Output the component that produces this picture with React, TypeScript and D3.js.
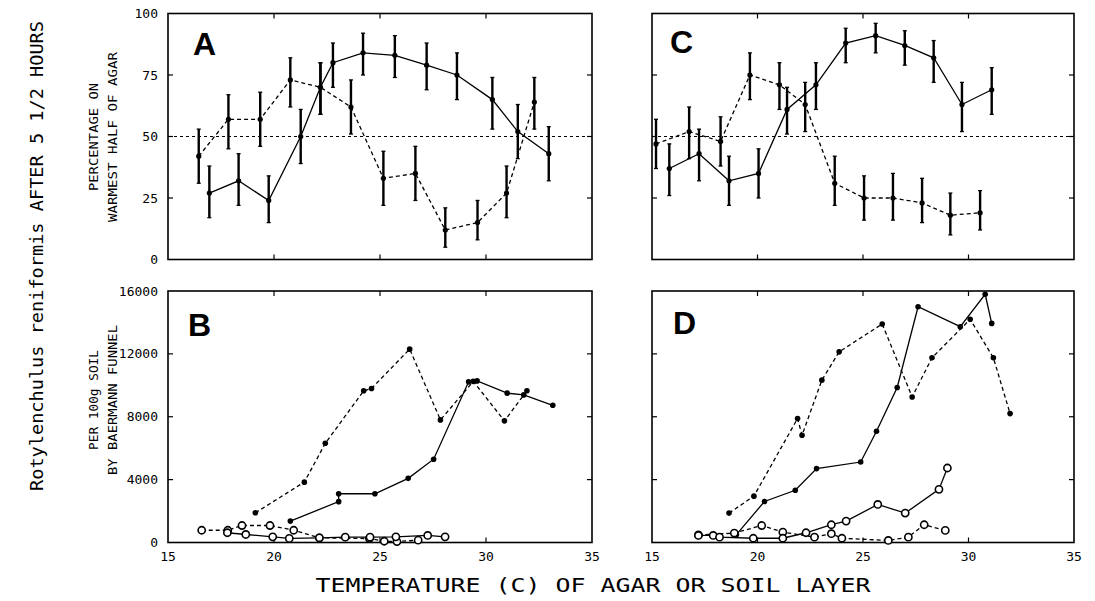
import React from "react";
import * as d3 from "d3";

// temperature axis (shared)
const tempTicks = [15, 20, 25, 30, 35];
const pctTicks = [0, 25, 50, 75, 100];
const countTicks = [0, 4000, 8000, 12000, 16000];

// [temp, pct, low, high]
const aSolid = [
  [16.95, 27, 17, 38], [18.33, 32, 22, 43], [19.75, 24, 15, 34], [21.26, 50, 39, 61],
  [22.19, 70, 59, 80], [22.78, 80, 70, 88], [24.2, 84, 75, 92], [25.7, 83, 74, 91],
  [27.2, 79, 69, 88], [28.63, 75, 65, 84], [30.3, 65, 53, 74], [31.5, 52, 41, 63],
  [32.96, 43, 32, 54],
];
const aDashed = [
  [16.45, 42, 31, 53], [17.85, 57, 45, 67], [19.35, 57, 46, 68], [20.77, 73, 62, 82],
  [22.19, 70, 59, 80], [23.63, 62, 51, 73], [25.16, 33, 22, 44], [26.67, 35, 24, 46],
  [28.08, 12, 5, 21], [29.6, 15, 8, 24], [30.97, 27, 17, 38], [32.28, 64, 53, 74],
];
const cSolid = [
  [15.82, 37, 26, 47], [17.23, 43, 32, 53], [18.65, 32, 22, 42], [20.05, 35, 25, 45],
  [21.4, 61, 51, 70], [22.77, 71, 61, 80], [24.18, 88, 80, 94], [25.6, 91, 84, 96],
  [26.98, 87, 79, 93], [28.35, 82, 72, 89], [29.69, 63, 52, 72], [31.1, 69, 59, 78],
];
const cDashed = [
  [15.19, 47, 37, 57], [16.76, 52, 41, 62], [18.25, 48, 38, 58], [19.64, 75, 65, 84],
  [21.04, 71, 61, 80], [22.26, 63, 52, 72], [23.66, 31, 22, 42], [25.05, 25, 16, 34],
  [26.42, 25, 16, 35], [27.8, 23, 15, 33], [29.14, 18, 10, 27], [30.55, 19, 12, 28],
];

// [temp, count]
const bSolidFilled = [
  [20.77, 1360], [23.05, 2600], [23.05, 3100], [24.76, 3100], [26.33, 4080], [27.53, 5300],
  [29.18, 10220], [29.58, 10280], [31.0, 9500], [31.78, 9390], [33.15, 8730],
];
const bDashedFilled = [
  [19.12, 1890], [21.43, 3840], [22.42, 6310], [24.23, 9650], [24.6, 9800], [26.4, 12300],
  [27.85, 7800], [29.4, 10250], [30.87, 7740], [31.93, 9650],
];
const bSolidOpen = [
  [17.8, 620], [18.67, 510], [19.94, 360], [20.72, 260], [22.14, 300], [23.36, 340],
  [24.53, 340], [25.75, 360], [27.25, 450], [28.07, 360],
];
const bDashedOpen = [
  [16.59, 780], [17.82, 780], [18.49, 1080], [19.81, 1080], [20.93, 780], [22.14, 300],
  [24.5, 250], [25.2, 80], [25.8, 60], [26.8, 150],
];
const dSolidFilled = [
  [19.0, 500], [20.33, 2610], [21.79, 3320], [22.8, 4700], [24.89, 5120], [25.64, 7080],
  [26.62, 9860], [27.61, 15000], [29.61, 13730], [30.79, 15790], [31.1, 13940],
];
const dDashedFilled = [
  [18.65, 1870], [19.83, 2950], [21.9, 7890], [22.11, 6820], [23.05, 10330], [23.87, 12130],
  [25.91, 13900], [27.33, 9260], [28.27, 11750], [30.08, 14200], [31.18, 11750], [31.97, 8200],
];
const dSolidOpen = [
  [17.2, 450], [17.9, 450], [18.2, 340], [19.8, 270], [21.2, 270], [22.3, 620], [23.5, 1130],
  [24.2, 1360], [25.7, 2420], [27.0, 1870], [28.6, 3380], [29.0, 4740],
];
const dDashedOpen = [
  [17.2, 480], [18.9, 600], [20.2, 1080], [21.2, 660], [22.7, 340], [23.5, 560], [24.0, 270],
  [26.2, 130], [27.15, 340], [27.9, 1130], [28.9, 770],
];

const FONT = "'DejaVu Sans Mono', monospace";
const DASH = "4,3";

function Frame({ x, y, ticksY, showX, showY }) {
  const [x0, x1] = x.range();
  const [y0, y1] = y.range();
  return (
    <g>
      <rect x={x0} y={y1} width={x1 - x0} height={y0 - y1} fill="none" stroke="#000" strokeWidth={1.6} />
      {tempTicks.slice(1, -1).map(t => (
        <g key={"xt" + t}>
          <line x1={x(t)} x2={x(t)} y1={y0} y2={y0 - 5} stroke="#000" strokeWidth={1.2} />
          <line x1={x(t)} x2={x(t)} y1={y1} y2={y1 + 5} stroke="#000" strokeWidth={1.2} />
        </g>
      ))}
      {ticksY.slice(1, -1).map(v => (
        <g key={"yt" + v}>
          <line x1={x0} x2={x0 + 5} y1={y(v)} y2={y(v)} stroke="#000" strokeWidth={1.2} />
          <line x1={x1} x2={x1 - 5} y1={y(v)} y2={y(v)} stroke="#000" strokeWidth={1.2} />
        </g>
      ))}
      {showY && ticksY.map(v => (
        <text key={"yl" + v} x={x0 - 10} y={y(v)} dy="0.35em" textAnchor="end" fontFamily={FONT} fontSize={13}>
          {v}
        </text>
      ))}
      {showX && tempTicks.map(t => (
        <text key={"xl" + t} x={x(t)} y={y0 + 18} textAnchor="middle" fontFamily={FONT} fontSize={13}>
          {t}
        </text>
      ))}
    </g>
  );
}

function ErrSeries({ data, x, y, dashed }) {
  const line = d3.line().x(d => x(d[0])).y(d => y(d[1]));
  return (
    <g>
      <path d={line(data)} fill="none" stroke="#000" strokeWidth={1.3} strokeDasharray={dashed ? DASH : null} />
      {data.map((d, i) => (
        <g key={i}>
          <line x1={x(d[0])} x2={x(d[0])} y1={y(d[2])} y2={y(d[3])} stroke="#000" strokeWidth={2.4} />
          <line x1={x(d[0]) - 2} x2={x(d[0]) + 2} y1={y(d[2])} y2={y(d[2])} stroke="#000" strokeWidth={1.3} />
          <line x1={x(d[0]) - 2} x2={x(d[0]) + 2} y1={y(d[3])} y2={y(d[3])} stroke="#000" strokeWidth={1.3} />
          <circle cx={x(d[0])} cy={y(d[1])} r={2.6} fill="#000" />
        </g>
      ))}
    </g>
  );
}

function CountSeries({ data, x, y, dashed, open }) {
  const line = d3.line().x(d => x(d[0])).y(d => y(d[1]));
  return (
    <g>
      <path d={line(data)} fill="none" stroke="#000" strokeWidth={1.3} strokeDasharray={dashed ? DASH : null} />
      {data.map((d, i) =>
        open ? (
          <circle key={i} cx={x(d[0])} cy={y(d[1])} r={3.6} fill="#fff" stroke="#000" strokeWidth={1.6} />
        ) : (
          <circle key={i} cx={x(d[0])} cy={y(d[1])} r={2.8} fill="#000" />
        )
      )}
    </g>
  );
}

export default function App() {
  const xL = d3.scaleLinear().domain([15, 35]).range([168, 592]);
  const xR = d3.scaleLinear().domain([15, 35]).range([652, 1074]);
  const yPct = d3.scaleLinear().domain([0, 100]).range([259.5, 13.5]);
  const yCnt = d3.scaleLinear().domain([0, 16000]).range([542.5, 291]);

  const letter = (txt, x, y) => (
    <text x={x} y={y} fontFamily="'Liberation Sans', Arial, sans-serif" fontWeight="bold" fontSize={32}>{txt}</text>
  );

  return (
    <svg width={1095} height={601} style={{ position: "absolute", left: 0, top: 0, background: "#fff" }}>
      <rect width={1095} height={601} fill="#fff" />
      {/* A */}
      <Frame x={xL} y={yPct} ticksY={pctTicks} showY showX={false} />
      <line x1={xL(15)} x2={xL(35)} y1={yPct(50)} y2={yPct(50)} stroke="#000" strokeWidth={1.2} strokeDasharray="3,3" />
      <ErrSeries data={aDashed} x={xL} y={yPct} dashed />
      <ErrSeries data={aSolid} x={xL} y={yPct} />
      {letter("A", 193, 55)}
      {/* C */}
      <Frame x={xR} y={yPct} ticksY={pctTicks} showY={false} showX={false} />
      <line x1={xR(15)} x2={xR(35)} y1={yPct(50)} y2={yPct(50)} stroke="#000" strokeWidth={1.2} strokeDasharray="3,3" />
      <ErrSeries data={cDashed} x={xR} y={yPct} dashed />
      <ErrSeries data={cSolid} x={xR} y={yPct} />
      {letter("C", 670, 53)}
      {/* B */}
      <Frame x={xL} y={yCnt} ticksY={countTicks} showY showX />
      <CountSeries data={bDashedFilled} x={xL} y={yCnt} dashed />
      <CountSeries data={bSolidFilled} x={xL} y={yCnt} />
      <CountSeries data={bDashedOpen} x={xL} y={yCnt} dashed open />
      <CountSeries data={bSolidOpen} x={xL} y={yCnt} open />
      {letter("B", 188, 336)}
      {/* D */}
      <Frame x={xR} y={yCnt} ticksY={countTicks} showY={false} showX />
      <CountSeries data={dDashedFilled} x={xR} y={yCnt} dashed />
      <CountSeries data={dSolidFilled} x={xR} y={yCnt} />
      <CountSeries data={dDashedOpen} x={xR} y={yCnt} dashed open />
      <CountSeries data={dSolidOpen} x={xR} y={yCnt} open />
      {letter("D", 673, 334)}

      {/* axis titles */}
      <text transform="translate(43,256) rotate(-90)" textAnchor="middle" fontFamily={FONT} fontSize={17}
        textLength={470} lengthAdjust="spacingAndGlyphs">Rotylenchulus reniformis AFTER 5 1/2 HOURS</text>
      <text transform="translate(98,137) rotate(-90)" textAnchor="middle" fontFamily={FONT} fontSize={13}
        textLength={108} lengthAdjust="spacingAndGlyphs">PERCENTAGE ON</text>
      <text transform="translate(117,137) rotate(-90)" textAnchor="middle" fontFamily={FONT} fontSize={13}
        textLength={170} lengthAdjust="spacingAndGlyphs">WARMEST HALF OF AGAR</text>
      <text transform="translate(98,400) rotate(-90)" textAnchor="middle" fontFamily={FONT} fontSize={13}
        textLength={100} lengthAdjust="spacingAndGlyphs">PER 100g SOIL</text>
      <text transform="translate(117,400) rotate(-90)" textAnchor="middle" fontFamily={FONT} fontSize={13}
        textLength={150} lengthAdjust="spacingAndGlyphs">BY BAERMANN FUNNEL</text>
      <text x={593} y={592} textAnchor="middle" fontFamily={FONT} fontSize={19}
        textLength={555} lengthAdjust="spacingAndGlyphs">TEMPERATURE (C) OF AGAR OR SOIL LAYER</text>
    </svg>
  );
}
